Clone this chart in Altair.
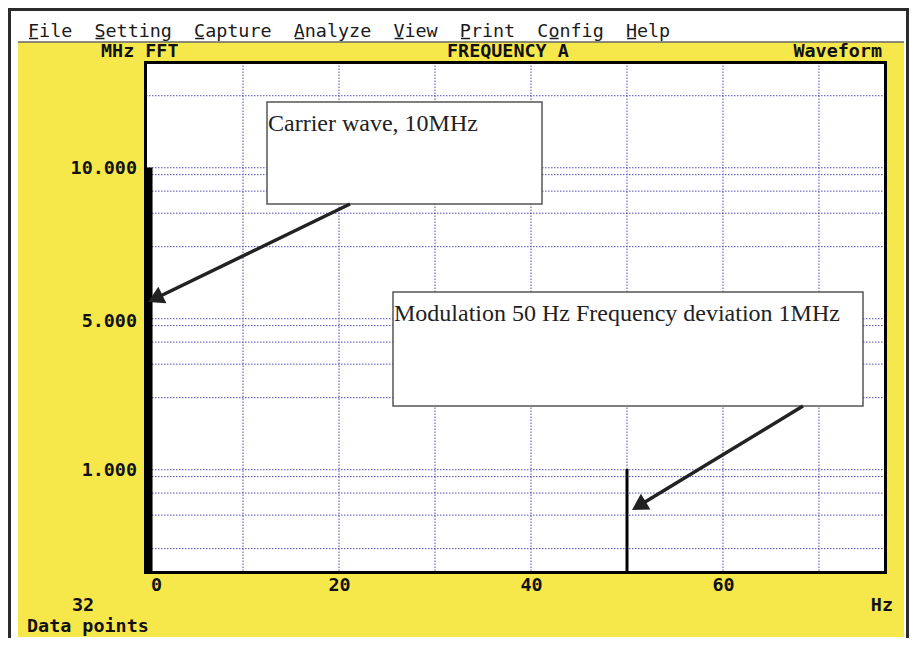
import math
import altair as alt
import pandas as pd

# ---------------- data ----------------
freq_hz = [0, 50]            # spike positions (Hz)
amp_mhz = [10, 1]            # spike heights (MHz)
x_grid_hz = [10, 20, 30, 40, 50, 60, 70]
y_grid_mhz = [0.03, 0.05, 0.07, 0.09, 0.1, 0.3, 0.5, 0.7, 0.9, 1, 3, 5, 7, 9, 10, 30]
x_tick_values = [0, 20, 40, 60]
y_tick_values = [1, 5, 10]
menu_items = ["File", "Setting", "Capture", "Analyze", "View", "Print", "Config", "Help"]
menu_hotkey = [0, 0, 0, 0, 0, 0, 1, 0]
notes = ["Carrier wave, 10MHz", "Modulation 50 Hz Frequency deviation 1MHz"]

# ---------------- layout ----------------
W, H = 740, 510
OX, OY = 145.5, 62.5          # page position of the plot origin


def px(v):
    return v - OX


def py(v):
    return v - OY


MONO = "DejaVu Sans Mono"
SERIF = "Liberation Serif"
FS = 18.4
ADV = 0.602 * FS              # monospace character advance
YELLOW = "#F6E84A"
GRID = "#4d4db8"
INK = "#111111"

one = pd.DataFrame({"k": [0]})
spikes_df = pd.DataFrame({"freq": freq_hz, "mhz": amp_mhz})
xg_df = pd.DataFrame({"f": x_grid_hz})
yg_df = pd.DataFrame({"g": y_grid_mhz})


def box(x0, x1, y0, y1, **kw):
    return alt.Chart(one).mark_rect(**kw).encode(
        x=alt.value(px(x0)), x2=alt.value(px(x1)),
        y=alt.value(py(y0)), y2=alt.value(py(y1)))


def label(s, x, y, align="left", font=MONO, size=FS, weight="bold", color=INK):
    return alt.Chart(one).mark_text(
        align=align, baseline="alphabetic", font=font, fontSize=size,
        fontWeight=weight, color=color).encode(
        x=alt.value(px(x)), y=alt.value(py(y)), text=alt.value(s))


def seg(x0, y0, x1, y1, w=3.5, color="#222222"):
    return alt.Chart(one).mark_rule(strokeWidth=w, color=color, strokeCap="butt").encode(
        x=alt.value(px(x0)), y=alt.value(py(y0)),
        x2=alt.value(px(x1)), y2=alt.value(py(y1)))


def arrow(x0, y0, xt, yt, size=340, back=8, color="#222222"):
    dx, dy = xt - x0, yt - y0
    n = math.hypot(dx, dy)
    ux, uy = dx / n, dy / n
    cx, cy = xt - back * ux, yt - back * uy
    ang = math.degrees(math.atan2(dx, -dy)) % 360
    line = seg(x0, y0, cx, cy, color=color)
    tip = alt.Chart(one).mark_point(
        shape="triangle-up", filled=True, size=size, angle=ang,
        color=color, opacity=1, strokeWidth=0).encode(
        x=alt.value(px(cx)), y=alt.value(py(cy)))
    return [line, tip]


# ---------------- scales / axes ----------------
xs = alt.Scale(domain=[-0.16, 76.93], nice=False, zero=False)
ys = alt.Scale(domain=[0, 1, 5, 10, 13.44], range=[H, 406.5, 257.5, 105, 0],
               nice=False, zero=False)
ys_grid = alt.Scale(type="log", domain=[0.02085, 49.8], nice=False)

xaxis = alt.Axis(values=x_tick_values, title=None, ticks=False, tickSize=0, domain=False,
                 grid=False, labelFont=MONO, labelFontWeight="bold", labelFontSize=FS,
                 labelColor=INK, labelPadding=3, labelBaseline="top", labelFlush=False,
                 labelOffset={"condition": {"test": "datum.value === 0", "value": 9}, "value": 0},
                 zindex=1)
yaxis = alt.Axis(values=y_tick_values, format=".3f", title=None, ticks=False, tickSize=0,
                 domain=False, grid=False, labelFont=MONO, labelFontWeight="bold",
                 labelFontSize=FS, labelColor=INK, labelPadding=9, labelBaseline="middle",
                 zindex=1)

# ---------------- chrome (window, menu, yellow panel) ----------------
MENU_X, MENU_Y = 28, 37
menu_str = "\u00a0\u00a0".join(menu_items)
underlines = []
pos = 0
for item, hk in zip(menu_items, menu_hotkey):
    c = pos + hk
    underlines.append(seg(MENU_X + c * ADV + 1, MENU_Y + 1.5,
                          MENU_X + (c + 1) * ADV - 1, MENU_Y + 1.5,
                          w=1.5, color="#1a1a1a"))
    pos += len(item) + 2

chrome = [
    box(9.5, 907.5, 9.5, 700, color="white", stroke="#2b2b2b", strokeWidth=3),
    box(18, 904, 42, 637, color=YELLOW),
    seg(18, 42, 904, 42, w=1.5, color="#666666"),
    box(OX, OX + W, OY, OY + H, color="white"),
    label(menu_str, MENU_X, MENU_Y, weight="normal", color="#1a1a1a"),
    *underlines,
    label("MHz FFT", 101, 57),
    label("FREQUENCY A", 447, 57),
    label("Waveform", 882, 57, align="right"),
    label("32", 72, 611),
    label("Data points", 27, 632),
    label("Hz", 893, 611, align="right"),
]

grid_v = alt.Chart(xg_df).mark_rule(color=GRID, strokeDash=[1.5, 1.5], strokeWidth=1).encode(
    x=alt.X("f:Q", scale=xs, axis=xaxis))
grid_h = alt.Chart(yg_df).mark_rule(color=GRID, strokeDash=[1.5, 1.5], strokeWidth=1).encode(
    y=alt.Y("g:Q", scale=ys_grid, axis=None))

back_layer = alt.layer(*chrome, grid_v, grid_h)

# ---------------- data + annotations ----------------
spikes = alt.Chart(spikes_df).mark_rule(clip=True, color="black", strokeCap="butt").encode(
    x=alt.X("freq:Q", scale=xs, axis=xaxis),
    y=alt.Y("mhz:Q", scale=ys, axis=yaxis),
    y2=alt.datum(0),
    strokeWidth=alt.condition("datum.freq == 0", alt.value(11), alt.value(3)),
)

frame = box(OX, OX + W, OY, OY + H, fillOpacity=0, stroke="black", strokeWidth=3)

annots = [
    box(267, 542, 102, 204, color="white", stroke="#555555", strokeWidth=1.5),
    label(notes[0], 268, 131, font=SERIF, size=24, weight="normal", color="#222222"),
    box(393, 863, 292, 406, color="white", stroke="#555555", strokeWidth=1.5),
    label(notes[1], 394, 321, font=SERIF, size=24, weight="normal", color="#222222"),
    *arrow(350, 204, 148, 302),
    *arrow(803, 406, 632, 510),
]

front_layer = alt.layer(spikes, frame, *annots)

chart = alt.layer(back_layer, front_layer).resolve_scale(y="independent").properties(
    width=W, height=H,
    padding={"left": OX - 8, "top": OY - 8, "right": 901 - (OX - 8) - W,
             "bottom": 630 - (OY - 8) - H},
    autosize=alt.AutoSizeParams(type="none"),
    background="white",
).configure_view(stroke=None)

chart.save("out.html", embed_options={"renderer": "svg", "actions": False})
